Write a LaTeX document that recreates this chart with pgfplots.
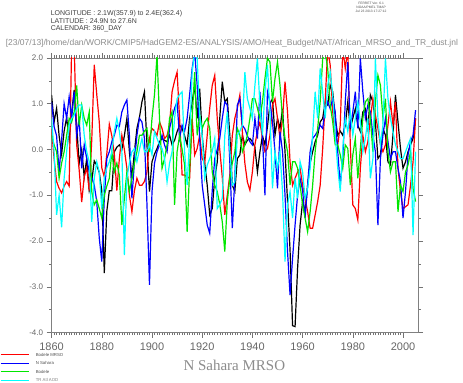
\documentclass[border=0pt]{standalone}
\usepackage{pgfplots}
\pgfplotsset{compat=1.18}
\usepackage{pgfplotstable}
\usepackage{fontspec}
\setmainfont{Liberation Sans}
\newfontfamily\seriffont{Liberation Serif}
\definecolor{fgreen}{RGB}{0,230,0}
\definecolor{fcyan}{RGB}{0,255,255}
\definecolor{fblue}{RGB}{0,0,255}
\definecolor{fred}{RGB}{255,0,0}

\pgfplotstableread{
year  bk     rd     bl     gr     cy
1860  1.19   0.45   1.04   0.31   0.68
1861  0.6   -0.2    0.5    0.1   -0.05
1862  0.9   -0.7    0.3   -0.05  -1.43
1863  0.3   -0.85  -0.5   -0.63  -1.0
1864 -0.1   -0.95   0.2   -0.3   -1.7
1865  0.4   -0.8    1.0   -0.05  -0.63
1866  0.7   -0.7    0.68   0.31  -0.05
1867  0.2   -0.8    1.15   0.68   0.53
1868  0.8    2.3    0.68   0.6    0.68
1869  1.3    2.3    1.26   0.82   0.75
1870  0.5    0.1    0.31   1.4    0.9
1871 -0.3   -0.45   0.68   0.53   0.97
1872  0.0   -1.15  -0.41   0.97   0.97
1873 -0.6   -0.6    0.1    0.68   0.31
1874 -0.2   -0.4   -0.2    0.53  -0.05
1875 -0.9   -0.9   -0.49   0.82  -0.27
1876 -0.7    0.2   -0.6   -0.92  -1.58
1877 -0.25   1.85  -0.78  -1.21  -0.63
1878 -0.35   1.2   -1.14  -1.1   -0.27
1879 -0.5    0.6   -1.94  -1.29  -0.5
1880 -0.9   -0.4   -2.45  -1.5   -1.29
1881 -2.7   -0.6   -1.07  -1.0   -0.63
1882 -1.35  -0.1   -0.2   -0.8   -0.4
1883 -0.9    0.55  -0.05  -0.63  -0.27
1884 -0.9    0.3    0.17  -0.05  -0.05
1885 -0.05  -0.1    0.31  -0.49   0.39
1886  0.05  -0.9    0.53  -0.3    0.68
1887  0.1   -0.2    0.5   -0.56   0.4
1888  0.0    0.31   0.82  -1.65  -0.05
1889  0.3    0.0    0.97  -1.07  -2.31
1890  0.68  -0.41   1.08  -0.49  -0.63
1891 -0.05  -1.0    0.31  -0.92  -0.3
1892 -0.63  -1.36  -1.07  -0.63  -0.05
1893 -0.05  -0.9   -0.27  -0.3    0.02
1894  0.46  -0.63   0.31  -0.05  -0.27
1895  0.7   -0.78   0.68   0.31   0.0
1896  1.04  -0.78   0.6    0.31   0.24
1897  1.26  -0.7    0.24   0.4   -0.05
1898  0.1   -0.49  -1.2    0.46  -0.05
1899 -0.92   0.24  -2.96  -0.05   0.1
1900 -0.27   0.46  -0.92   0.68  -0.12
1901 -0.1    0.4   -0.3    1.2    0.39
1902  0.02   0.31  -0.05   2.06   0.24
1903  0.17   0.6    0.1    0.68   0.1
1904  0.24   0.46   0.31  -0.41   0.02
1905  0.2    0.24   0.1   -0.2   -0.2
1906  0.17   0.3   -0.05   0.1   -0.71
1907  0.31   0.53   0.46   0.68  -0.3
1908  0.1    1.26   0.68   0.82  -0.05
1909  0.2    1.5    0.9   -1.21   0.68
1910  0.39   1.69   1.04  -0.05   1.11
1911  0.53   0.68   0.24   0.31   1.2
1912  0.46  -0.56   0.53   0.0    1.26
1913  0.3   -0.56   0.4   -0.34  -0.05
1914  0.1   -0.6    0.68  -1.8   -0.78
1915  0.68  -0.63   1.2   -0.41   0.24
1916  1.04   0.68   1.77   0.68   1.69
1917  1.4   -0.12   2.13   1.69   2.13
1918  0.68   0.02   1.4    0.31   1.99
1919  1.33   0.31   0.24   0.75   0.75
1920  0.31  -0.2   -0.78   0.46   0.31
1921 -0.3   -0.3   -1.21   0.6   -0.63
1922 -0.78   0.31  -1.65   0.68  -0.34
1923 -1.43   0.9   -1.83   0.46  -0.2
1924 -1.29   1.4   -0.9   -0.49  -0.05
1925 -0.63   1.62  -0.2   -0.78   0.24
1926 -0.27   0.68   0.0   -0.92  -1.29
1927  0.68   0.0    0.24  -1.2   -1.2
1928  1.48  -0.6    0.68  -1.58  -1.07
1929  1.04  -1.43   1.04  -2.23   0.31
1930  1.11  -1.0    0.97  -1.14   0.82
1931  0.31  -0.56  -0.27  -0.63   0.0
1932 -0.78   0.31  -1.72  -0.3   -0.78
1933 -0.92   0.68  -0.63  -0.05  -0.71
1934 -0.2    0.9    0.97   0.46   0.31
1935 -0.12   1.19   1.11   0.31   0.4
1936  0.31   0.39   0.53  -0.05   0.53
1937  0.1   -0.3    0.45   0.1    1.69
1938  0.2   -0.71   0.3    0.31   1.11
1939  0.24  -0.89   0.17   0.68   0.9
1940  0.17  -0.49   0.1    1.11   0.68
1941  0.05   0.1    0.68   1.11   1.4
1942 -0.49   0.4    0.24   0.9    1.99
1943 -0.05   0.6    1.26   0.68   0.97
1944  0.3    0.24   0.31   1.04   0.31
1945  0.1   -0.05  -1.0    1.55   1.26
1946  0.5    0.02   1.26   1.99   1.84
1947  1.0    0.31   1.04   1.91   0.8
1948  1.11   0.97   0.6    1.04  -0.85
1949  0.31   1.11  -0.05   1.55  -0.05
1950  0.68   0.68  -0.85   1.91  -0.41
1951  0.46   0.24   0.39   1.4   -0.05
1952  0.89   0.68  -0.05   0.68  -0.92
1953 -0.05   1.48  -1.0    0.24  -2.45
1954 -1.14   0.82  -2.23  -0.05  -1.21
1955 -2.2   -0.27  -3.18  -0.78  -0.92
1956 -3.85  -0.78  -2.38  -0.27  -1.5
1957 -3.87  -0.63  -1.65  -0.27  -0.63
1958 -2.6   -0.49  -1.0   -0.41  -1.07
1959 -1.65  -0.41  -0.63  -0.78  -0.27
1960 -1.14  -0.78  -0.9   -1.21  -0.49
1961 -1.36  -1.07  -1.5   -1.5   -1.07
1962 -0.78  -1.36  -0.78  -1.8   -0.85
1963 -0.3   -1.72  -0.05  -1.36  -0.41
1964 -0.05  -1.72   0.24  -0.78   0.31
1965  0.17  -1.43   0.31  -0.05   1.26
1966  0.31  -1.14   0.4    0.46   0.68
1967  0.6   -0.78   0.53   1.04   1.77
1968  0.68   0.02   0.46   1.99   1.26
1969  1.04   1.04   0.9    2.13   0.68
1970  0.97   2.2    1.04   1.77   1.4
1971  1.4    1.84   0.89   0.97   1.69
1972  1.26   0.82   1.11   0.6    1.19
1973  0.68   0.31   0.82   0.1    0.31
1974  0.31   0.1   -0.05   0.1   -0.41
1975  0.4    0.53  -0.78  -0.12  -0.92
1976  0.31   2.2   -0.2   -0.41   0.02
1977  0.53   1.77   1.04   0.1    0.68
1978  1.04   2.2    1.91   0.02   0.39
1979  0.46   0.1    0.46  -0.78   0.82
1980  0.68  -1.21   0.82  -0.12   0.31
1981  0.89  -1.29   1.26   0.24   0.68
1982  0.53  -1.54   0.46  -0.63   1.04
1983  0.39  -0.41   1.99   0.02   0.6
1984  0.82   0.31   1.26   0.68  -0.05
1985  0.89  -0.05   0.68   1.04   0.24
1986  0.46   0.17   0.97   1.11   0.68
1987  1.19   0.68   0.82   0.68  -0.63
1988  1.04   1.11   0.31  -0.05  -0.2
1989  0.6    0.75  -0.05   1.04   1.99
1990 -0.2    0.46  -1.65   1.62   0.68
1991 -0.12   0.1   -0.2    1.4    0.1
1992  0.46  -0.05   0.31   0.68   0.53
1993  0.31   0.1    0.68   1.11   1.99
1994 -0.27   0.53   0.17  -0.05   1.11
1995 -0.34   1.04  -0.2   -0.49   0.68
1996  0.31   0.53  -0.05  -0.27   0.39
1997  1.19   1.04  -0.05  -0.27   0.1
1998  0.6   -0.41  -0.41  -1.36  -0.05
1999  0.02  -0.92  -0.71  -0.78  -0.2
2000 -0.41  -1.29  -1.5   -0.92  -0.2
2001 -0.27  -1.25  -0.92  -0.49  -0.05
2002 -0.05  -1.21  -0.12  -0.34   0.1
2003  0.1   -0.78   0.17  -0.05   0.24
2004  0.24  -0.27   0.31  -0.85  -1.87
2005  0.68   0.68   0.86  -1.14  -0.05
}\datatable

\begin{document}
\begin{tikzpicture}[x=1bp,y=1bp]
\path (0,0) rectangle (463,383);
\begin{axis}[
  at={(51bp,50bp)}, anchor=south west,
  scale only axis, width=367bp, height=275bp,
  xmin=1860, xmax=2006, ymin=-4, ymax=2,
  xtick={1860,1880,...,2000}, minor x tick num=19,
  ytick={-4,-3,...,2}, minor y tick num=1,
  tick align=outside, tick pos=both,
  major tick length=5bp, minor tick length=2.5bp,
  axis line style={black!50, line width=0.6bp},
  every tick/.style={black!55, line width=0.5bp},
  /pgf/number format/assume math mode=true,
  xticklabel style={font=\fontsize{11bp}{11bp}\selectfont, text=black!60, /pgf/number format/1000 sep={}, yshift=-1.5bp},
  yticklabel style={font=\fontsize{8bp}{8bp}\selectfont, text=black!60,
     /pgf/number format/.cd, fixed, fixed zerofill, precision=1},
  every axis plot/.append style={line width=1.2bp, mark=none},
]
\addplot[black] table[x=year, y=bk] {\datatable};
\addplot[fred] table[x=year, y=rd] {\datatable};
\addplot[fblue] table[x=year, y=bl] {\datatable};
\addplot[fgreen] table[x=year, y=gr] {\datatable};
\addplot[fcyan] table[x=year, y=cy] {\datatable};
\end{axis}
% header
\node[anchor=west, inner sep=0, font=\fontsize{7bp}{7bp}\selectfont, text=black!75] at (50,369.7) {LONGITUDE : 2.1W(357.9) to 2.4E(362.4)};
\node[anchor=west, inner sep=0, font=\fontsize{7bp}{7bp}\selectfont, text=black!75] at (50,362) {LATITUDE : 24.9N to 27.6N};
\node[anchor=west, inner sep=0, font=\fontsize{7bp}{7bp}\selectfont, text=black!75] at (50,354.5) {CALENDAR: 360\_DAY};
\node[anchor=center, inner sep=0, font=\fontsize{3.3bp}{3.3bp}\selectfont, text=black!70] at (371,379.7) {FERRET Ver. 6.1};
\node[anchor=center, inner sep=0, font=\fontsize{3.3bp}{3.3bp}\selectfont, text=black!70] at (371,375.7) {NOAA/PMEL TMAP};
\node[anchor=center, inner sep=0, font=\fontsize{3.3bp}{3.3bp}\selectfont, text=black!70] at (371,371.2) {Jul 23 2013 17:27:12};
\node[anchor=west, inner sep=0, font=\fontsize{8.5bp}{8.5bp}\selectfont, text=black!45] at (5,339.5) {[23/07/13]/home/dan/WORK/CMIP5/HadGEM2-ES/ANALYSIS/AMO/Heat\_Budget/NAT/African\_MRSO\_and\_TR\_dust.jnl};
% title
\node[anchor=center, inner sep=0, font=\seriffont\fontsize{15bp}{15bp}\selectfont, text=black!45] at (234,17) {N Sahara MRSO};
% legend
\draw[fred, line width=1.3bp] (0,27.7) -- (28,27.7);
\draw[fblue, line width=1.3bp] (0,19.3) -- (28,19.3);
\draw[fgreen, line width=1.3bp] (0,10.7) -- (28,10.7);
\draw[fcyan, line width=1.3bp] (0,2.3) -- (28,2.3);
\node[anchor=west, inner sep=0, font=\fontsize{4.3bp}{4.3bp}\selectfont, text=black!70] at (35,27.7) {Bodele MRSO};
\node[anchor=west, inner sep=0, font=\fontsize{4.3bp}{4.3bp}\selectfont, text=black!70] at (35,19.3) {N Sahara};
\node[anchor=west, inner sep=0, font=\fontsize{4.3bp}{4.3bp}\selectfont, text=black!70] at (35,10.7) {Bodele};
\node[anchor=west, inner sep=0, font=\fontsize{4.3bp}{4.3bp}\selectfont, text=black!50] at (35,2.3) {TR Atl AOD};
\end{tikzpicture}
\end{document}
